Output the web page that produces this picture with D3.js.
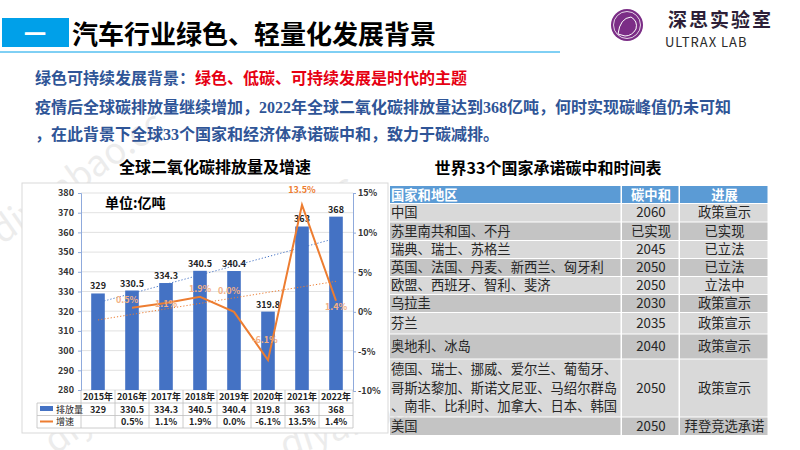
<!DOCTYPE html>
<html>
<head>
<meta charset="utf-8">
<script src="https://cdn.jsdelivr.net/npm/d3@7"></script>
<style>
body { margin: 0; background: #fff; }
svg { display: block; }
text { font-family: "Noto Sans CJK SC", sans-serif; }
</style>
</head>
<body>
<svg width="800" height="450"></svg>
<script>
// ---- data ----
var years = ["2015年", "2016年", "2017年", "2018年", "2019年", "2020年", "2021年", "2022年"];
var emissions = [329, 330.5, 334.3, 340.5, 340.4, 319.8, 363, 368];
var growth = [null, 0.5, 1.1, 1.9, 0.0, -6.1, 13.5, 1.4];
var leftTicks = [280, 290, 300, 310, 320, 330, 340, 350, 360, 370, 380];
var rightTicks = [-10, -5, 0, 5, 10, 15];

var tableHead = ["国家和地区", "碳中和", "进展"];
var regions = [
    "中国",
    "苏里南共和国、不丹",
    "瑞典、瑞士、苏格兰",
    "英国、法国、丹麦、新西兰、匈牙利",
    "欧盟、西班牙、智利、斐济",
    "乌拉圭",
    "芬兰",
    "奥地利、冰岛",
    "德国、瑞士、挪威、爱尔兰、葡萄牙、|哥斯达黎加、斯诺文尼亚、马绍尔群岛|、南非、比利时、加拿大、日本、韩国",
    "美国"
];
var neutralYear = ["2060", "已实现", "2045", "2050", "2050", "2030", "2035", "2040", "2050", "2050"];
var progress = ["政策宣示", "已实现", "已立法", "已立法", "立法中", "政策宣示", "政策宣示", "政策宣示", "政策宣示", "拜登竞选承诺"];

var svg = d3.select("svg");
var serif = '"Liberation Serif", "Times New Roman", serif';
var blueText = "#2f5597";

// ---- watermarks ----
var marks = [[2, 245, -35], [188, 300, -32], [55, 455, -35], [285, 458, -18]];
marks.forEach(function (m) {
    svg.append("text")
        .attr("transform", "translate(" + m[0] + "," + m[1] + ") rotate(" + m[2] + ")")
        .attr("font-family", "DejaVu Sans")
        .attr("font-size", 36)
        .attr("fill", "#000")
        .attr("opacity", 0.07)
        .text("diyanbao.cc");
});

// ---- header ----
svg.append("rect").attr("x", 2).attr("y", 18).attr("width", 67).attr("height", 29).attr("fill", "#00a0e9");
svg.append("text").attr("x", 35).attr("y", 42).attr("text-anchor", "middle")
    .attr("font-size", 22).attr("font-weight", 700).attr("fill", "#fff").text("一");
svg.append("text").attr("x", 72).attr("y", 44)
    .attr("font-size", 26).attr("font-weight", 700).attr("fill", "#000")
    .text("汽车行业绿色、轻量化发展背景");
svg.append("line").attr("x1", 0).attr("x2", 560).attr("y1", 52).attr("y2", 52)
    .attr("stroke", "#00a0e9").attr("stroke-width", 1);

// logo
var logo = svg.append("g");
logo.append("circle").attr("cx", 627).attr("cy", 25).attr("r", 16).attr("fill", "#7b2d86");
logo.append("circle").attr("cx", 627).attr("cy", 25).attr("r", 13.5).attr("fill", "none")
    .attr("stroke", "#fff").attr("stroke-width", 0.8);
logo.append("path").attr("d", "M618,34 Q620,18 631,17 Q638,21 636,29 Q632,36 625,36 Z")
    .attr("fill", "none").attr("stroke", "#fff").attr("stroke-width", 1);
logo.append("text").attr("x", 668).attr("y", 27)
    .attr("font-size", 19).attr("font-weight", 700).attr("fill", "#2d1f38")
    .attr("letter-spacing", 2).text("深思实验室");
logo.append("text").attr("x", 665).attr("y", 47)
    .attr("font-family", "DejaVu Sans").attr("font-size", 13).attr("fill", "#2a2a2a")
    .attr("letter-spacing", 1).text("ULTRAX LAB");

// ---- subtitle lines ----
var l1 = svg.append("text").attr("x", 35).attr("y", 84).attr("font-size", 16).attr("font-weight", 700);
l1.append("tspan").attr("fill", blueText).text("绿色可持续发展背景：");
l1.append("tspan").attr("fill", "#e60012").text("绿色、低碳、可持续发展是时代的主题");

function mixed(y, parts) {
    var t = svg.append("text").attr("x", 35).attr("y", y).attr("font-size", 16)
        .attr("font-weight", 700).attr("fill", blueText);
    parts.forEach(function (p, i) {
        var s = t.append("tspan").text(p);
        if (i % 2 == 1) s.attr("font-family", serif);
    });
}
mixed(113, ["疫情后全球碳排放量继续增加，", "2022", "年全球二氧化碳排放量达到", "368", "亿吨，何时实现碳峰值仍未可知"]);
mixed(140, ["，在此背景下全球", "33", "个国家和经济体承诺碳中和，致力于碳减排。"]);

// ---- chart ----
svg.append("text").attr("x", 215).attr("y", 173).attr("text-anchor", "middle")
    .attr("font-size", 16).attr("font-weight", 700).attr("fill", "#000")
    .text("全球二氧化碳排放量及增速");

svg.append("rect").attr("x", 22).attr("y", 183).attr("width", 366).attr("height", 250)
    .attr("fill", "#fff").attr("stroke", "#d9d9d9");

var x = d3.scaleBand().domain(years).range([81, 353]).paddingInner(0.6).paddingOuter(0.3);
var yL = d3.scaleLinear().domain([280, 380]).range([390, 193]);
var yR = d3.scaleLinear().domain([-10, 15]).range([391, 193]);
var cx = function (i) { return x(years[i]) + x.bandwidth() / 2; };

// grid
svg.append("g").selectAll("line").data(leftTicks).enter().append("line")
    .attr("x1", 81).attr("x2", 353)
    .attr("y1", function (d) { return yL(d); }).attr("y2", function (d) { return yL(d); })
    .attr("stroke", "#d9d9d9").attr("stroke-width", 0.8);

svg.append("text").attr("x", 105).attr("y", 208).attr("font-size", 14).attr("font-weight", 700)
    .attr("fill", "#000").text("单位:亿吨");

// bars
svg.append("g").selectAll("rect").data(emissions).enter().append("rect")
    .attr("x", function (d, i) { return x(years[i]); })
    .attr("y", function (d) { return yL(d); })
    .attr("width", x.bandwidth())
    .attr("height", function (d) { return yL(280) - yL(d); })
    .attr("fill", "#4472c4");

svg.append("g").selectAll("text").data(emissions).enter().append("text")
    .attr("x", function (d, i) { return cx(i); })
    .attr("y", function (d) { return yL(d) - 4; })
    .attr("text-anchor", "middle")
    .attr("font-family", serif).attr("font-size", 9).attr("font-weight", 700).attr("fill", "#222")
    .text(function (d) { return d; });

// trend lines (least squares, like the spreadsheet trendline)
function fit(vals) {
    var pts = [];
    vals.forEach(function (v, i) { if (v != null) pts.push([i, v]); });
    var mx = d3.mean(pts, function (p) { return p[0]; });
    var my = d3.mean(pts, function (p) { return p[1]; });
    var sxy = d3.sum(pts, function (p) { return (p[0] - mx) * (p[1] - my); });
    var sxx = d3.sum(pts, function (p) { return (p[0] - mx) * (p[0] - mx); });
    var b = sxy / sxx;
    return function (i) { return my + b * (i - mx); };
}
var fe = fit(emissions), fg = fit(growth);
svg.append("line")
    .attr("x1", cx(0)).attr("y1", yL(fe(0))).attr("x2", cx(7)).attr("y2", yL(fe(7)))
    .attr("stroke", "#4472c4").attr("stroke-width", 1).attr("stroke-dasharray", "1.2,2");
svg.append("line")
    .attr("x1", cx(0)).attr("y1", yR(fg(0))).attr("x2", cx(7)).attr("y2", yR(fg(7)))
    .attr("stroke", "#ed7d31").attr("stroke-width", 1).attr("stroke-dasharray", "1.2,2");

// growth line
var line = d3.line()
    .defined(function (d) { return d != null; })
    .x(function (d, i) { return cx(i); })
    .y(function (d) { return yR(d); });
svg.append("path").datum(growth).attr("d", line)
    .attr("fill", "none").attr("stroke", "#ed7d31").attr("stroke-width", 2);

var labelDy = [0, -5, 4, -5, -18, -17, -12, 9];
svg.append("g").selectAll("text").data(growth).enter()
    .filter(function (d) { return d != null; })
    .append("text")
    .attr("x", function (d) { var i = growth.indexOf(d); return cx(i) - (i == 1 || i == 4 ? 5 : 0) - (i == 5 ? 3 : 0); })
    .attr("y", function (d) { var i = growth.indexOf(d); return yR(d) + labelDy[i]; })
    .attr("text-anchor", "middle")
    .attr("font-family", serif).attr("font-size", 9).attr("font-weight", 700)
    .attr("fill", function (d) { return d == 13.5 ? "#ed7d31" : "#f3b084"; })
    .text(function (d) { return d.toFixed(1) + "%"; });

// axes
var axL = svg.append("g").attr("transform", "translate(81,0)")
    .call(d3.axisLeft(yL).tickValues(leftTicks).tickSize(3).tickPadding(4));
var axR = svg.append("g").attr("transform", "translate(353,0)")
    .call(d3.axisRight(yR).tickValues(rightTicks).tickSize(3).tickPadding(2)
        .tickFormat(function (d) { return d + "%"; }));
[axL, axR].forEach(function (a) {
    a.select(".domain").attr("stroke", "#8faadc");
    a.selectAll(".tick line").attr("stroke", "#8faadc");
    a.selectAll("text").attr("font-family", serif).attr("font-size", 9)
        .attr("font-weight", 700).attr("fill", "#333");
});

// data table under the plot
var tb = svg.append("g").attr("stroke", "#bfbfbf").attr("stroke-width", 0.8);
d3.range(9).forEach(function (i) {
    var xx = 81 + x.step() * i;
    tb.append("line").attr("x1", xx).attr("x2", xx).attr("y1", 390).attr("y2", 428);
});
tb.append("line").attr("x1", 37).attr("x2", 37).attr("y1", 403).attr("y2", 428);
[403, 415.5, 428].forEach(function (yy) {
    tb.append("line").attr("x1", 37).attr("x2", 353).attr("y1", yy).attr("y2", yy);
});
function rowText(vals, y, fmt) {
    svg.append("g").selectAll("text").data(vals).enter().append("text")
        .attr("x", function (d, i) { return cx(i); })
        .attr("y", y)
        .attr("text-anchor", "middle")
        .attr("font-family", serif).attr("font-size", 9).attr("font-weight", 700).attr("fill", "#222")
        .text(fmt);
}
rowText(years, 400, function (d) { return d; });
rowText(emissions, 412.5, function (d) { return d; });
rowText(growth, 425, function (d) { return d == null ? "" : d.toFixed(1) + "%"; });
svg.append("rect").attr("x", 40).attr("y", 406).attr("width", 13).attr("height", 5).attr("fill", "#4472c4");
svg.append("line").attr("x1", 40).attr("x2", 53).attr("y1", 421.5).attr("y2", 421.5)
    .attr("stroke", "#ed7d31").attr("stroke-width", 2);
svg.append("text").attr("x", 56).attr("y", 412.5).attr("font-size", 9).attr("fill", "#222").text("排放量");
svg.append("text").attr("x", 56).attr("y", 425).attr("font-size", 9).attr("fill", "#222").text("增速");

// ---- right table ----
svg.append("text").attr("x", 548).attr("y", 174).attr("text-anchor", "middle")
    .attr("font-size", 16).attr("font-weight", 700).attr("fill", "#000")
    .text("世界33个国家承诺碳中和时间表");

var colX = [390, 622, 680, 769];
var rowH = [18.5, 18.5, 18, 18, 18, 18, 21.5, 25, 58, 18.5];
var top0 = 186, headH = 18;
var rowY = [top0 + headH];
rowH.forEach(function (h, i) { rowY.push(rowY[i] + h); });

var tg = svg.append("g");
tableHead.forEach(function (h, c) {
    tg.append("rect").attr("x", colX[c]).attr("y", top0)
        .attr("width", colX[c + 1] - colX[c] - 1.5).attr("height", headH - 1)
        .attr("fill", "#5b9bd5");
    tg.append("text")
        .attr("x", c == 0 ? colX[0] + 1 : (colX[c] + colX[c + 1]) / 2)
        .attr("y", top0 + 14)
        .attr("text-anchor", c == 0 ? "start" : "middle")
        .attr("font-size", 13.3).attr("font-weight", 700).attr("fill", "#fff").text(h);
});
regions.forEach(function (r, i) {
    var cells = [r, neutralYear[i], progress[i]];
    var y0 = rowY[i], h = rowH[i];
    cells.forEach(function (v, c) {
        tg.append("rect").attr("x", colX[c]).attr("y", y0)
            .attr("width", colX[c + 1] - colX[c] - 1.5).attr("height", h - 1)
            .attr("fill", i % 2 == 0 ? "#d9d9d9" : "#c4c4c4");
        var parts = v.split("|");
        var t = tg.append("text")
            .attr("x", c == 0 ? colX[0] + 1 : (colX[c] + colX[c + 1]) / 2)
            .attr("text-anchor", c == 0 ? "start" : "middle")
            .attr("font-size", 13.3).attr("fill", "#262626");
        var mid = y0 + h / 2 - 1;
        parts.forEach(function (p, k) {
            t.append("tspan")
                .attr("x", c == 0 ? colX[0] + 1 : (colX[c] + colX[c + 1]) / 2)
                .attr("y", mid + 5 + (k - (parts.length - 1) / 2) * 18.5)
                .text(p);
        });
    });
});
</script>
</body>
</html>
